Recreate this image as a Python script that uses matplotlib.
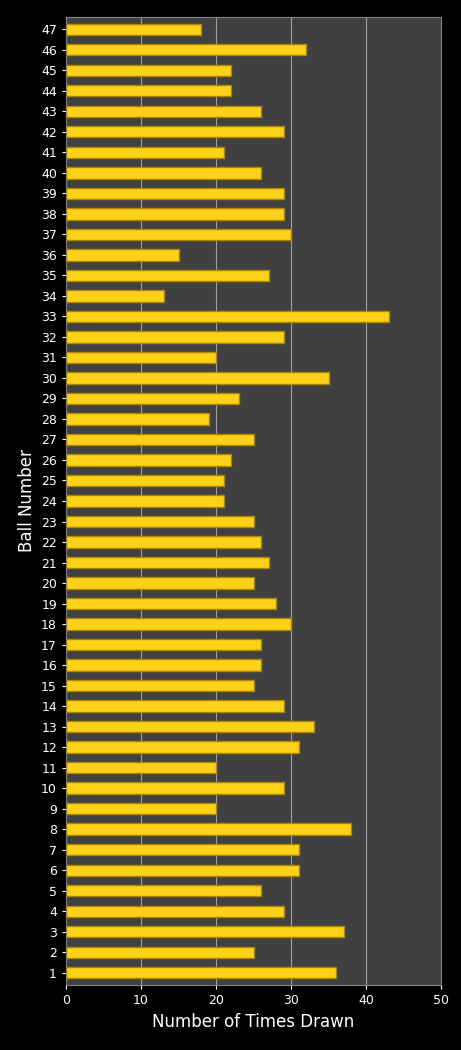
import matplotlib
matplotlib.use('agg')
import matplotlib.pyplot as plt

balls = list(range(1, 48))
drawn = [36, 25, 37, 29, 26, 31, 31, 38, 20, 29,
         20, 31, 33, 29, 25, 26, 26, 30, 28, 25,
         27, 26, 25, 21, 21, 22, 25, 19, 23, 35,
         20, 29, 43, 13, 27, 15, 30, 29, 29, 26,
         21, 29, 26, 22, 22, 32, 18]

fig = plt.figure(figsize=(4.61, 10.5), dpi=100, facecolor='black')
ax = fig.add_axes([66/461, 65/1050, 375/461, 968/1050])
ax.set_facecolor('#404040')

ax.grid(axis='x', color='#a0a0a0', linewidth=0.8)
ax.set_axisbelow(True)
ax.barh(balls, drawn, height=0.55, color='#ffd21a', edgecolor='#b08800', linewidth=1)

ax.set_xlim(0, 50)
ax.set_ylim(0.4, 47.6)
ax.set_xticks(range(0, 51, 10))
ax.set_yticks(balls)
ax.tick_params(colors='white', labelsize=9, length=3)
for s in ax.spines.values():
    s.set_color('#808080')
ax.set_xlabel('Number of Times Drawn', color='white', fontsize=12)
ax.set_ylabel('Ball Number', color='white', fontsize=12)

fig.savefig('out.png', facecolor='black')
